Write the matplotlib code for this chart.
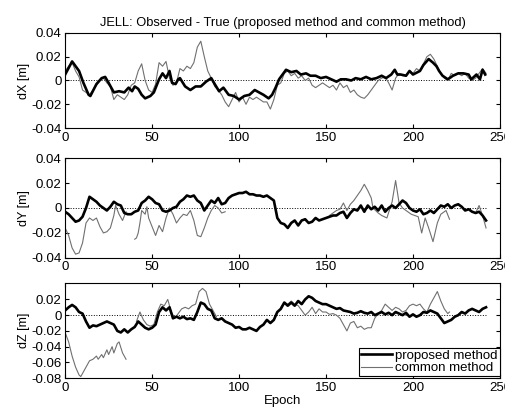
import numpy as np
import matplotlib
matplotlib.use('Agg')
import matplotlib.pyplot as plt

plt.rcParams['font.family'] = ['Liberation Sans', 'DejaVu Sans']

# epochs of the proposed method (dY, dZ sampled every 2 epochs)
ep_grid = list(range(0, 243, 2))

ep_x_prop = [0, 4, 8, 10.5, 13.5, 14.5, 18, 21, 23, 25, 28, 31, 34, 36.5, 38.5, 40, 42, 44, 46, 49,
             51, 54, 56, 58, 60, 61.5, 63.5, 65, 66, 69, 72, 75, 78, 81, 84, 86, 88.5, 91, 94, 97,
             100, 103, 106, 109, 111.5, 114, 117, 119, 121, 123, 125, 127, 130, 133, 135.5, 138.5,
             141, 144, 147, 150, 153, 156, 158.5, 161.5, 164.5, 167, 170, 173, 176, 179, 182, 184.5,
             187.5, 189.5, 191, 193, 196, 198, 200, 204, 206, 209, 211.5, 213.5, 215, 217, 220, 223,
             226, 229, 232, 233.5, 236.5, 238.5, 240, 241.5]
dx_prop = [0.005, 0.016, 0.008, -0.002, -0.012, -0.013, -0.003, 0.002, 0.003, -0.002,
           -0.010, -0.009, -0.010, -0.006, -0.009, -0.005, -0.007, -0.012, -0.015, -0.013,
           -0.010, 0.001, 0.006, 0.002, 0.008, -0.002, -0.003, 0.001, 0.002, -0.005,
           -0.008, -0.005, -0.005, -0.001, 0.002, -0.003, -0.009, -0.006, -0.012, -0.013,
           -0.016, -0.013, -0.012, -0.008, -0.010, -0.012, -0.015, -0.012, -0.006, 0.001,
           0.005, 0.009, 0.007, 0.008, 0.005, 0.006, 0.004, 0.004, 0.002, 0.003,
           0.001, -0.001, 0.001, 0.001, 0.000, 0.002, 0.001, 0.003, 0.001, 0.002,
           0.004, 0.002, 0.005, 0.009, 0.005, 0.005, 0.004, 0.008, 0.005, 0.008,
           0.013, 0.018, 0.015, 0.012, 0.008, 0.004, 0.001, 0.004, 0.006, 0.006,
           0.005, 0.001, 0.005, 0.001, 0.009, 0.005]
dx_comm = [0.008, 0.012, 0.015, 0.008, 0.003, -0.008, -0.010, -0.012, -0.008, -0.004,
           0.000, 0.002, -0.002, -0.005, -0.016, -0.012, -0.014, -0.016, -0.012, -0.004,
           -0.002, 0.008, 0.014, 0.000, -0.008, -0.010, -0.003, 0.015, 0.012, 0.016,
           0.002, -0.004, -0.002, 0.010, 0.008, 0.012, 0.010, 0.015, 0.028, 0.033,
           0.020, 0.008, 0.002, -0.005, -0.008, -0.012, -0.018, -0.022, -0.016, -0.010,
           -0.018, -0.014, -0.020, -0.014, -0.016, -0.014, -0.016, -0.018, -0.018, -0.024,
           -0.016, -0.004, -0.002, 0.006, 0.008, 0.004, 0.006, 0.002, 0.004, 0.000,
           0.002, -0.004, -0.006, -0.004, -0.002, -0.004, -0.006, -0.004, -0.008, -0.002,
           -0.006, -0.004, -0.010, -0.008, -0.012, -0.014, -0.015, -0.012, -0.008, -0.004,
           0.000, 0.002, 0.003, -0.002, -0.008, 0.002, 0.006, 0.004, 0.004, 0.008,
           0.006, 0.010, 0.008, 0.014, 0.020, 0.022, 0.018, 0.012, 0.006, 0.002,
           0.000, 0.006, 0.004, 0.006, 0.004, 0.006, 0.002, 0.000, 0.002, 0.006,
           0.010, 0.006]

dy_prop = [-0.003, -0.005, -0.008, -0.011, -0.010, -0.007, 0.000, 0.009, 0.007, 0.005,
           0.002, 0.000, -0.002, 0.001, 0.005, 0.003, 0.002, -0.004, -0.005, -0.005,
           -0.003, -0.002, 0.004, 0.006, 0.009, 0.007, 0.004, 0.003, -0.002, -0.003,
           -0.002, 0.000, 0.001, 0.005, 0.007, 0.010, 0.009, 0.010, 0.006, 0.004,
           -0.002, 0.002, 0.006, 0.004, 0.008, 0.003, 0.004, 0.008, 0.010, 0.011,
           0.012, 0.012, 0.013, 0.011, 0.011, 0.010, 0.010, 0.009, 0.010, 0.008,
           0.006, -0.008, -0.012, -0.013, -0.016, -0.012, -0.010, -0.014, -0.010, -0.009,
           -0.012, -0.011, -0.008, -0.010, -0.009, -0.008, -0.007, -0.006, -0.006, -0.004,
           -0.003, -0.008, -0.004, -0.001, -0.002, 0.002, -0.003, 0.002, -0.001, 0.001,
           -0.002, 0.002, -0.003, 0.000, 0.002, 0.000, 0.003, 0.006, 0.004, 0.000,
           -0.002, -0.003, -0.001, -0.005, -0.004, -0.002, -0.004, -0.001, 0.002, 0.001,
           0.003, 0.000, 0.002, 0.003, 0.001, -0.002, -0.001, -0.003, -0.004, -0.003,
           -0.006, -0.010]
ep_y_comm = [0, 2, 4, 6, 8, 10, 12, 14, 16, 18, 20, 22, 24, 26, 28, 29, 31, 33, 35, 37,
             40, 41, 42, 43, 44, 46, 47, 48, 50, 52, 54, 56, 58, 60, 62, 64, 66, 68, 70, 72,
             74, 76, 78, 80, 82, 84, 86, 88, 90, 92, 120,
             152, 154, 156, 158, 160, 162, 164, 166, 168, 170, 172, 174, 176, 177, 180, 182,
             185, 188, 190, 192, 194, 196, 199, 203, 205, 207, 209, 211.5, 214, 216, 219, 221,
             230, 236, 238, 240, 242]
dy_comm = [-0.016, -0.022, -0.032, -0.037, -0.036, -0.028, -0.012, -0.008, -0.010, -0.008,
           -0.015, -0.020, -0.019, -0.016, -0.006, 0.002, -0.005, -0.010, -0.003, np.nan,
           -0.025, -0.024, -0.020, -0.012, -0.002, -0.005, 0.001, -0.008, -0.015, -0.022,
           -0.014, -0.019, -0.008, 0.000, -0.005, -0.012, -0.008, -0.005, -0.006, -0.002,
           -0.010, -0.022, -0.023, -0.016, -0.008, -0.002, 0.002, 0.000, -0.004, -0.003, np.nan,
           -0.006, -0.004, -0.002, -0.001, 0.004, -0.002, 0.003, 0.006, 0.010, 0.014,
           0.019, 0.014, 0.008, 0.000, -0.004, -0.006, -0.008, 0.005, 0.022, 0.004,
           0.000, -0.002, -0.005, -0.007, -0.020, -0.008, -0.016, -0.027, -0.012, -0.005,
           -0.002, -0.009, np.nan, -0.004, 0.002, -0.006, -0.016]

dz_prop = [0.006, 0.010, 0.013, 0.010, 0.004, 0.002, -0.008, -0.016, -0.013, -0.014,
           -0.012, -0.010, -0.008, -0.010, -0.012, -0.020, -0.022, -0.018, -0.022, -0.018,
           -0.015, -0.008, -0.012, -0.016, -0.018, -0.016, -0.012, 0.004, 0.010, 0.006,
           0.010, -0.004, -0.002, -0.004, -0.002, -0.005, -0.004, -0.006, 0.004, 0.016,
           0.014, 0.008, 0.006, -0.004, -0.006, -0.004, -0.008, -0.010, -0.012, -0.016,
           -0.015, -0.018, -0.018, -0.016, -0.018, -0.020, -0.015, -0.012, -0.006, -0.010,
           -0.006, 0.004, 0.008, 0.016, 0.012, 0.016, 0.012, 0.018, 0.014, 0.020,
           0.024, 0.022, 0.018, 0.016, 0.014, 0.014, 0.012, 0.010, 0.008, 0.009,
           0.006, 0.005, 0.004, 0.002, 0.003, 0.005, 0.003, 0.002, 0.004, 0.000,
           0.002, 0.004, 0.001, 0.003, 0.000, 0.004, 0.002, 0.000, 0.003, -0.002,
           0.001, -0.002, 0.000, 0.004, 0.003, 0.006, 0.004, 0.002, -0.004, -0.010,
           -0.008, -0.006, -0.002, 0.000, 0.004, 0.002, 0.006, 0.008, 0.006, 0.004,
           0.008, 0.010]
ep_z_comm = [0, 2, 4, 6, 8, 9, 10, 12, 14, 16, 18, 19, 21, 22, 24, 25, 27, 28, 30, 31, 33, 35, 38,
             41, 43, 45, 47, 49, 51, 53, 55, 57, 59, 61, 63, 65, 67, 69, 71, 73, 75, 77, 79,
             81, 83, 85, 87, 105,
             124, 126, 128, 130, 132, 134, 136, 138, 140, 142, 144, 146, 148, 150, 152, 154,
             156, 158, 160, 162, 164, 166, 168, 170, 172, 174, 176, 178, 180, 182, 184, 186,
             188, 190, 192, 194, 196, 198, 200, 202, 204, 206, 208, 210, 212, 214, 216, 218,
             220, 221]
dz_comm = [-0.022, -0.034, -0.052, -0.066, -0.076, -0.078, -0.074, -0.066, -0.058, -0.056,
           -0.052, -0.056, -0.050, -0.054, -0.044, -0.050, -0.040, -0.048, -0.036, -0.034,
           -0.048, -0.056, np.nan,
           -0.008, 0.004, -0.006, -0.012, -0.014, -0.012, 0.004, 0.014, 0.012, 0.020,
           0.004, -0.004, 0.002, 0.008, 0.010, 0.008, 0.012, 0.014, 0.030, 0.034,
           0.030, 0.014, 0.006, -0.002, np.nan,
           0.010, 0.016, 0.014, 0.018, 0.014, 0.012, 0.006, 0.000, 0.004, 0.010,
           0.002, 0.008, 0.004, 0.004, 0.001, 0.002, 0.000, -0.004, -0.012, -0.020,
           -0.010, -0.008, -0.016, -0.014, -0.018, -0.016, -0.016, -0.004, 0.002, 0.006,
           0.014, 0.010, 0.006, 0.010, 0.008, 0.004, 0.006, 0.012, 0.014, 0.012,
           0.014, 0.008, 0.004, 0.014, 0.022, 0.030, 0.018, 0.008, 0.002, 0.004]

xticks = [0, 50, 100, 150, 200, 250]
ylabels = ['dX [m]', 'dY [m]', 'dZ [m]']
yticks_xy = [-0.04, -0.02, 0, 0.02, 0.04]
yticks_z = [-0.08, -0.06, -0.04, -0.02, 0, 0.02]

fig = plt.figure(figsize=(5.05, 4.16), dpi=100)
boxes = [[0.129, 0.692, 0.861, 0.229],
         [0.129, 0.380, 0.861, 0.240],
         [0.129, 0.091, 0.861, 0.229]]
axes = [fig.add_axes(b) for b in boxes]

series = [(ep_x_prop, dx_prop, ep_grid, dx_comm),
          (ep_grid, dy_prop, ep_y_comm, dy_comm),
          (ep_grid, dz_prop, ep_z_comm, dz_comm)]

for i, ax in enumerate(axes):
    ep_p, v_p, ep_c, v_c = series[i]
    ax.plot([ep_p[0], ep_p[-1]], [0, 0], color='k', ls=':', lw=0.7)
    lc, = ax.plot(ep_c, v_c, color='#707070', lw=0.8, label='common method')
    lp, = ax.plot(ep_p, v_p, color='k', lw=1.9, label='proposed method')
    ax.set_xlim(0, 250)
    ax.set_xticks(xticks)
    if i < 2:
        ax.set_ylim(-0.04, 0.04)
        ax.set_yticks(yticks_xy)
    else:
        ax.set_ylim(-0.08, 0.041)
        ax.set_yticks(yticks_z)
    ax.set_yticklabels([('%g' % t) for t in ax.get_yticks()])
    ax.set_ylabel(ylabels[i], fontsize=9, labelpad=1)
    ax.tick_params(direction='in', top=True, right=True, length=3, labelsize=9.5, pad=2.5)
    for s in ax.spines.values():
        s.set_linewidth(0.8)

axes[0].set_title('JELL: Observed - True (proposed method and common method)', fontsize=9.3, pad=5)
axes[2].set_xlabel('Epoch', fontsize=9.5, labelpad=1)
leg = axes[2].legend(handles=[lp, lc], loc='lower right', bbox_to_anchor=(1.0, 0.02),
                     borderaxespad=0, fontsize=9.5, handlelength=2.3, labelspacing=0.0,
                     borderpad=0.15, handletextpad=0.3, fancybox=False, framealpha=1)
leg.get_frame().set_edgecolor('k')
leg.get_frame().set_linewidth(0.8)

fig.savefig('out.png', dpi=100)
